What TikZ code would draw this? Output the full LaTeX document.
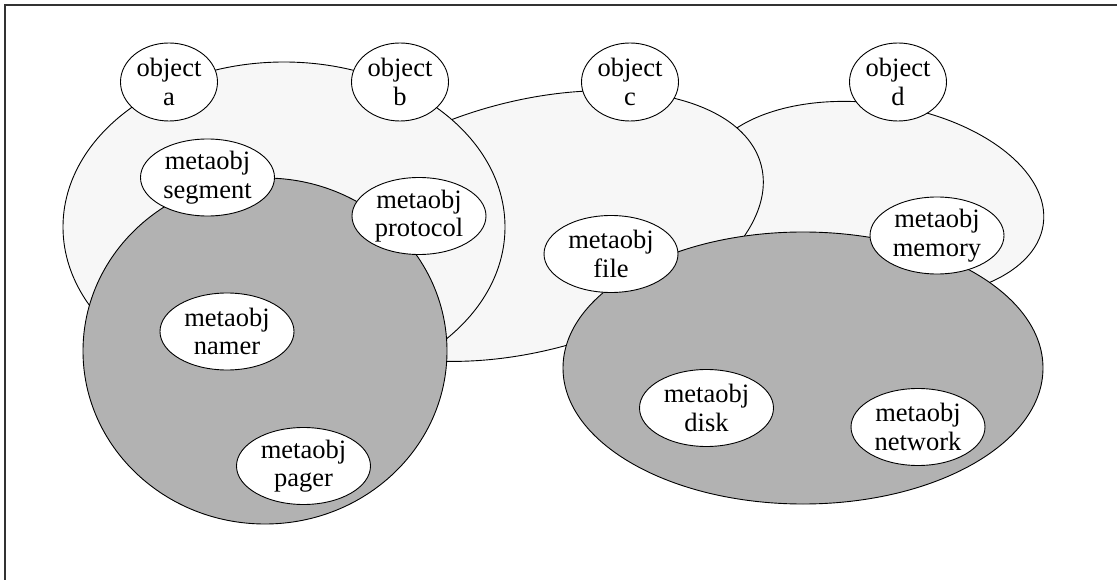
\documentclass[tikz,border=0pt]{standalone}
\usepackage{fontspec}
\setmainfont{Liberation Serif}
\usetikzlibrary{shapes.geometric}
\begin{document}
\begin{tikzpicture}[x=1pt, y=-1pt, line width=0.9pt,
light/.style={ellipse, draw, fill=black!3, inner sep=0pt},
dark/.style={ellipse, draw, fill=black!30, inner sep=0pt},
obj/.style={ellipse, draw, fill=white, inner sep=0pt, align=center,
  minimum width=97pt, minimum height=78pt,
  font=\fontsize{26.5}{28.5}\selectfont},
meta/.style={obj, minimum width=134pt, minimum height=77pt},
]
\useasboundingbox (0,0) rectangle (1117,580);
% frame, only top and left edges
\draw[line width=1.6pt, black!80] (1117,5) -- (5,5) -- (5,580);

% object spaces (light) and metaobject groups (dark)
\node[light, minimum width=344pt, minimum height=193pt, rotate=-8.2] (spaced) at (873,200) {};
\node[light, minimum width=480pt, minimum height=250pt, rotate=14.7] (spacec) at (529,226) {};
\node[light, minimum width=442pt, minimum height=330pt] (spaceab) at (284,227) {};
\node[dark, minimum width=364pt, minimum height=346pt] (groupl) at (265,351) {};
\node[dark, minimum width=480pt, minimum height=272pt] (groupr) at (803,368) {};

% objects
\node[obj] (obja) at (169,82) {object\\a};
\node[obj] (objb) at (400,82) {object\\b};
\node[obj] (objc) at (630,82) {object\\c};
\node[obj] (objd) at (898,82) {object\\d};

% metaobjects
\node[meta] (segment) at (207.5,177.5) {metaobj\\segment};
\node[meta] (protocol) at (419,216) {metaobj\\protocol};
\node[meta] (namer) at (227,331.5) {metaobj\\namer};
\node[meta] (pager) at (303.5,466) {metaobj\\pager};
\node[meta] (file) at (611,254) {metaobj\\file};
\node[meta] (memory) at (937,235.5) {metaobj\\memory};
\node[meta] (disk) at (706.5,408) {metaobj\\disk};
\node[meta] (network) at (918,427) {metaobj\\network};
\end{tikzpicture}
\end{document}
